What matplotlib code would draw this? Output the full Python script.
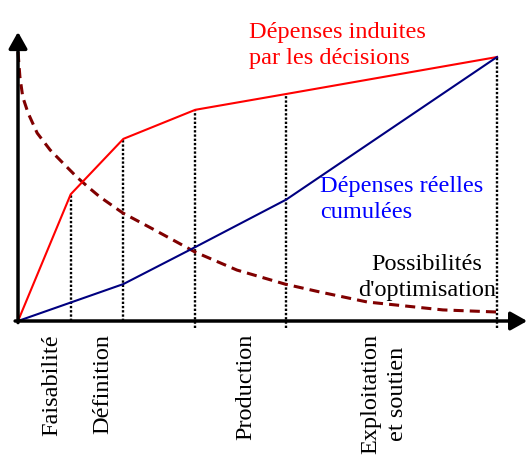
import matplotlib.pyplot as plt

# abscisse : avancement du projet (%), ordonnée : dépenses (%)
phase_x = [0, 11, 22, 37, 56, 100]
induites = [0, 48, 69, 80, 86, 100]
reelles = [0, 7, 14, 28, 46, 100]

optim_x = [0, 0.4, 1.0, 2.1, 4.0, 6.7, 9.4, 12.3, 14.6, 17.1, 21.9, 28.2,
           37.0, 45.7, 55.7, 63.0, 72.9, 88.7, 100]
optim_y = [101.9, 92.4, 84.8, 78.8, 71.2, 64.8, 59.8, 54.5, 50.8, 47.0, 40.9,
           34.8, 26.1, 19.3, 14.0, 11.0, 7.2, 4.2, 3.4]

phases = ["Faisabilité", "Définition", "Production", "Exploitation\net soutien"]
phase_pos = [7.1, 17.7, 47.6, 76.4]


def main():
    plt.rcParams["font.family"] = ["Liberation Serif", "DejaVu Serif"]
    fig = plt.figure(figsize=(5.27, 4.55), dpi=100)
    ax = fig.add_axes([0, 0, 1, 1])
    ax.set_xlim(-3.76, 106.26)
    ax.set_ylim(-50.76, 121.6)
    ax.axis("off")

    # lignes pointillées des jalons
    bottoms = [0, 0, -2.65, -2.65, -2.65]
    ax.vlines(phase_x[1:], bottoms, induites[1:], colors="black",
              linestyles=(0, (1, 0.8)), lw=1.7, zorder=1)

    ax.plot(phase_x, induites, color="#ff0000", lw=1.5, zorder=3)
    ax.plot(phase_x, reelles, color="#000080", lw=1.5, zorder=3)
    ax.plot(optim_x, optim_y, color="#800000", lw=2.2, dashes=(3.3, 2),
            zorder=2)

    # axes avec flèches
    arrow = dict(arrowstyle="-|>,head_length=0.5,head_width=0.28",
                 lw=2.5, color="black", mutation_scale=20,
                 shrinkA=0, shrinkB=0)
    ax.annotate("", xy=(0, 109.5), xytext=(0, -0.6), arrowprops=arrow,
                annotation_clip=False)
    ax.annotate("", xy=(106.3, 0), xytext=(-0.6, 0), arrowprops=arrow,
                annotation_clip=False)

    ax.text(48.2, 97.3, "Dépenses induites\npar les décisions",
            color="#ff0000", fontsize=17.5, va="baseline", ha="left",
            linespacing=1.3)
    ax.text(63.0, 39.0, "Dépenses réelles\ncumulées",
            color="#0000ff", fontsize=17.5, va="baseline", ha="left",
            linespacing=1.3)
    ax.text(85.4, 9.5, "Possibilités\nd'optimisation", color="black",
            fontsize=17.5, va="baseline", ha="center", multialignment="center",
            linespacing=1.3)

    for name, x in zip(phases, phase_pos):
        ax.text(x, -4.9, name, rotation=90, fontsize=17.5, va="top",
                ha="center", multialignment="center", linespacing=1.35)

    fig.savefig("out.png", dpi=100)


if __name__ == "__main__":
    main()
